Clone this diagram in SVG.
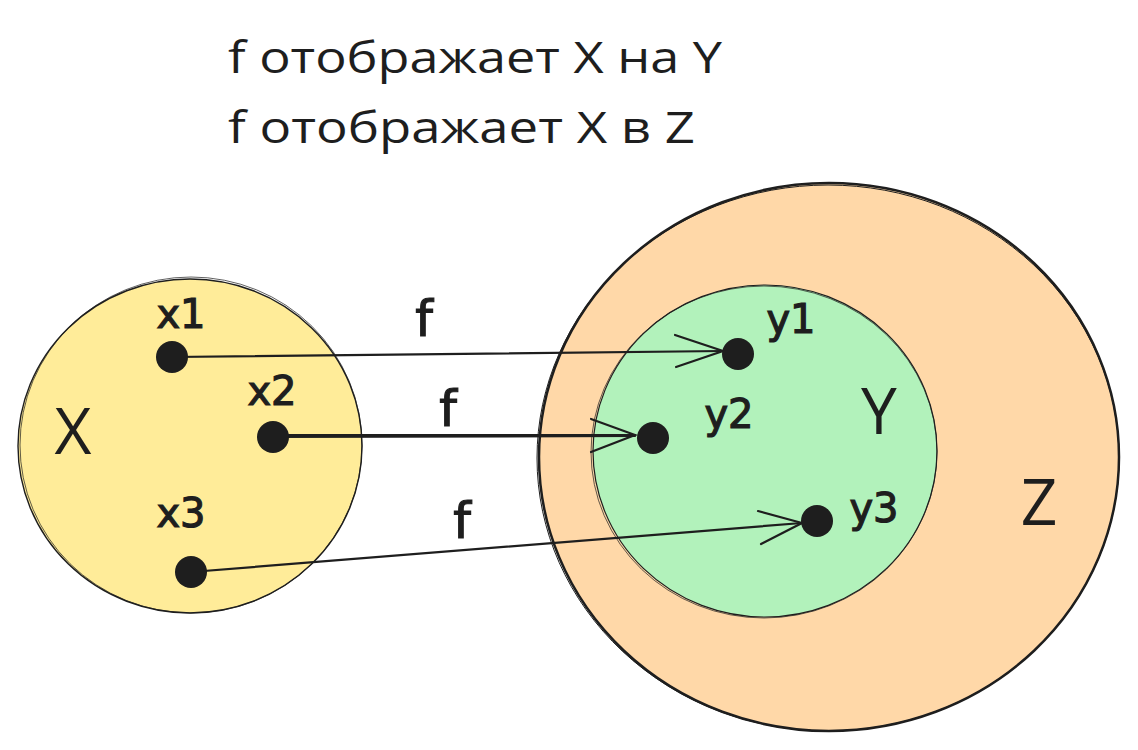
<svg xmlns="http://www.w3.org/2000/svg" width="1138" height="750" viewBox="0 0 1138 750">
<style>
.title{font-family:"Open Sans","Noto Sans","DejaVu Sans",sans-serif;font-size:43px;fill:#1e1e1e}
.big{font-family:"Open Sans","Liberation Sans",sans-serif;font-size:64px;fill:#1e1e1e;text-anchor:middle}
.lbl{font-family:"DejaVu Sans","Liberation Sans",sans-serif;font-size:40px;fill:#1e1e1e;text-anchor:middle;stroke:#1e1e1e;stroke-width:1.2}
.fl{font-size:50px}
.dot{fill:#1e1e1e}
.edge{stroke:#1e1e1e;stroke-width:2.2;fill:none;stroke-linecap:round}
.set{stroke:#1e1e1e;fill-rule:nonzero}
</style>
<rect width="1138" height="750" fill="#ffffff"/>
<g id="title">
<text class="title" x="228" y="73" textLength="494" lengthAdjust="spacingAndGlyphs">f отображает X на Y</text>
<text class="title" x="228" y="143" textLength="467" lengthAdjust="spacingAndGlyphs">f отображает X в Z</text>
</g>
<g id="setZ">
<ellipse class="set" cx="829" cy="457" rx="290" ry="274" fill="#ffd8a8" stroke-width="2.5"/>
<ellipse cx="828" cy="458" rx="291" ry="273" fill="none" stroke="#1e1e1e" stroke-width="1"/>
<text class="big" x="1039" y="525">Z</text>
</g>
<g id="setY">
<ellipse class="set" cx="765" cy="451" rx="172" ry="166" fill="#b2f2bb" stroke-width="1.2"/>
<ellipse cx="764" cy="452" rx="173" ry="166" fill="none" stroke="#1e1e1e" stroke-width="0.7"/>
<text class="big" x="879" y="434">Y</text>
</g>
<g id="setX">
<ellipse class="set" cx="190" cy="446" rx="172" ry="167" fill="#ffec99" stroke-width="1.4"/>
<ellipse cx="191" cy="445" rx="171" ry="168" fill="none" stroke="#1e1e1e" stroke-width="0.7"/>
<text class="big" x="73" y="454">X</text>
</g>
<g id="connectors">
<path class="edge" d="M172 357 L723 351"/>
<path class="edge" d="M675 335 L723 351 L676 367"/>
<path class="edge" d="M273 437 L635 436"/>
<path class="edge" d="M273 435 L635 435"/>
<path class="edge" d="M591 419 L635 435 L591 452"/>
<path class="edge" d="M191 572 L802 523"/>
<path class="edge" d="M758 511 L802 523 L761 544"/>
<text class="lbl fl" x="424" y="336">f</text>
<text class="lbl fl" x="448" y="426">f</text>
<text class="lbl fl" x="462" y="538">f</text>
</g>
<g id="x1"><circle class="dot" cx="172" cy="357" r="16"/><text class="lbl" x="181" y="328">x1</text></g>
<g id="x2"><circle class="dot" cx="273" cy="437" r="16"/><text class="lbl" x="272" y="405">x2</text></g>
<g id="x3"><circle class="dot" cx="191" cy="572" r="16"/><text class="lbl" x="181" y="527">x3</text></g>
<g id="y1"><circle class="dot" cx="738" cy="354" r="16"/><text class="lbl" x="791" y="333">y1</text></g>
<g id="y2"><circle class="dot" cx="653" cy="438" r="16"/><text class="lbl" x="729" y="428">y2</text></g>
<g id="y3"><circle class="dot" cx="817" cy="521" r="16"/><text class="lbl" x="874" y="522">y3</text></g>
</svg>
